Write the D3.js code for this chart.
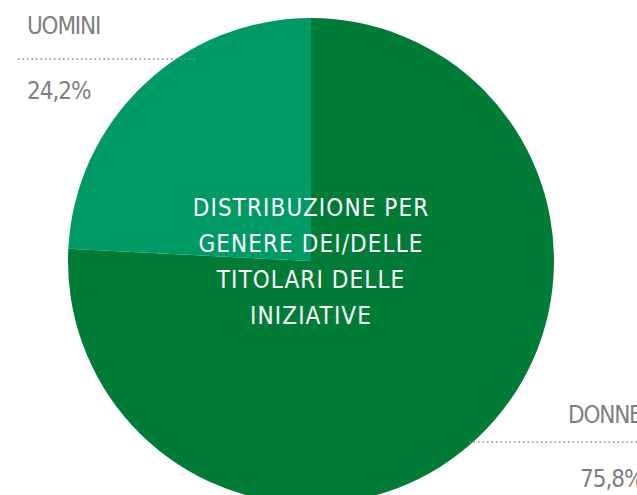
<!DOCTYPE html>
<html>
<head>
<meta charset="utf-8">
<script src="https://cdn.jsdelivr.net/npm/d3@7"></script>
<style>
  body { margin: 0; background: #fff; }
  text { font-family: "DejaVu Sans", sans-serif; font-stretch: condensed; }
</style>
</head>
<body>
<svg id="chart" width="637" height="495"></svg>
<script>
// dati
const categories = ["DONNE", "UOMINI"];
const values = [75.8, 24.2];
const valueLabels = ["75,8%", "24,2%"];
const colors = ["#007c36", "#009a64"];
const titleLines = ["DISTRIBUZIONE PER", "GENERE DEI/DELLE", "TITOLARI DELLE", "INIZIATIVE"];

const svg = d3.select("#chart");
const cx = 311, cy = 261, r = 243;

const pie = d3.pie().sort(null).value(d => d);
const arc = d3.arc().innerRadius(0).outerRadius(r);

const g = svg.append("g").attr("transform", `translate(${cx},${cy})`);

g.selectAll("path")
  .data(pie(values))
  .enter()
  .append("path")
  .attr("d", arc)
  .attr("fill", (d, i) => colors[i]);

// titolo al centro
g.selectAll("text.title")
  .data(titleLines)
  .enter()
  .append("text")
  .attr("class", "title")
  .attr("x", 0)
  .attr("y", (d, i) => -45 + i * 36)
  .attr("text-anchor", "middle")
  .attr("fill", "#fff")
  .style("font-size", "24px")
  .style("letter-spacing", "1.1px")
  .text(d => d);

// etichette esterne
const labelPos = [
  { x: 568, yName: 423, yLine: 442, yVal: 487, x1: 469, x2: 637, xVal: 580 },
  { x: 27, yName: 34, yLine: 59, yVal: 99, x1: 18, x2: 195, xVal: 27 }
];

categories.forEach((c, i) => {
  const p = labelPos[i];
  svg.append("line")
    .attr("x1", p.x1).attr("x2", p.x2)
    .attr("y1", p.yLine).attr("y2", p.yLine)
    .attr("stroke", "#8a8a8a")
    .attr("stroke-width", 1.5)
    .attr("stroke-dasharray", "1.5,3");
  svg.append("text")
    .attr("x", p.x).attr("y", p.yName)
    .attr("fill", "#808080")
    .style("font-size", "24px")
    .style("letter-spacing", "-1.2px")
    .text(c);
  svg.append("text")
    .attr("x", p.xVal).attr("y", p.yVal)
    .attr("fill", "#808080")
    .style("font-size", "24px")
    .style("letter-spacing", "-1px")
    .text(valueLabels[i]);
});
</script>
</body>
</html>
